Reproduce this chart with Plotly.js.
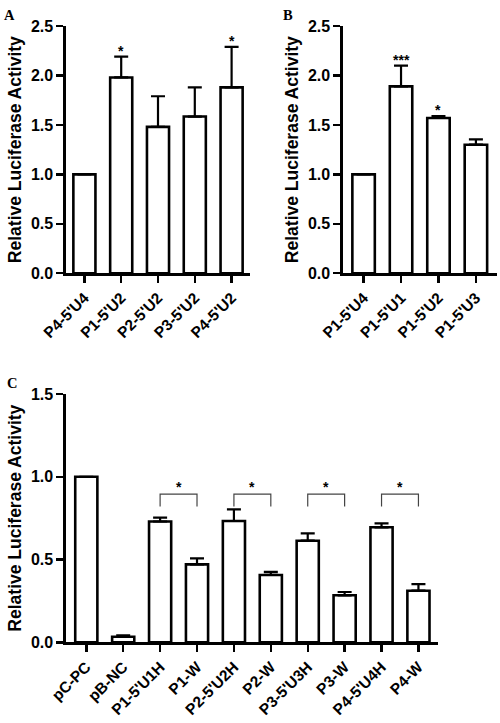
<!DOCTYPE html>
<html><head><meta charset="utf-8">
<script src="https://cdn.plot.ly/plotly-3.0.1.min.js"></script>
<style>html,body{margin:0;padding:0;background:#fff;}#chart{width:500px;height:723px;}</style>
</head><body><div id="chart"></div>
<script>
// Panel A
const catsA = ["P4-5'U4", "P1-5'U2", "P2-5'U2", "P3-5'U2", "P4-5'U2"];
const valsA = [1.0, 1.98, 1.48, 1.585, 1.88];
const errA  = [0, 0.21, 0.31, 0.295, 0.41];
const sigA  = ["", "*", "", "", "*"];
// Panel B
const catsB = ["P1-5'U4", "P1-5'U1", "P1-5'U2", "P1-5'U3"];
const valsB = [1.0, 1.89, 1.57, 1.30];
const errB  = [0, 0.21, 0.02, 0.055];
const sigB  = ["", "***", "*", ""];
// Panel C
const catsC = ["pC-PC", "pB-NC", "P1-5'U1H", "P1-W", "P2-5'U2H", "P2-W", "P3-5'U3H", "P3-W", "P4-5'U4H", "P4-W"];
const valsC = [1.0, 0.034, 0.73, 0.471, 0.733, 0.407, 0.614, 0.284, 0.695, 0.312];
const errC  = [0, 0.008, 0.023, 0.036, 0.07, 0.018, 0.044, 0.02, 0.024, 0.04];
const pairsC = [[2, 3], [4, 5], [6, 7], [8, 9]];
const pairSig = ["*", "*", "*", "*"];
const bracketTop = 0.895;
const bracketBottom = 0.82;

const FONT = "Arial, 'Liberation Sans', sans-serif";

function barTrace(cats, vals, errs, xa, ya) {
  return {
    type: 'bar', x: cats.map((c, i) => i), y: vals, xaxis: xa, yaxis: ya,
    width: 0.6,
    marker: {color: '#ffffff', line: {color: '#000000', width: 2.6}},
    error_y: {type: 'data', symmetric: false, array: errs, arrayminus: errs.map(() => 0),
      color: '#000000', thickness: 2.2, width: 7},
    showlegend: false, hoverinfo: 'skip'
  };
}

const data = [
  barTrace(catsA, valsA, errA, 'x', 'y'),
  barTrace(catsB, valsB, errB, 'x2', 'y2'),
  barTrace(catsC, valsC, errC, 'x3', 'y3')
];

function xaxis(cats, domain, range, anchor) {
  return {
    domain: domain, range: range, anchor: anchor,
    tickmode: 'array', tickvals: cats.map((c, i) => i), ticktext: cats,
    tickangle: -45, ticks: 'outside', ticklen: 7, tickwidth: 2.4, tickcolor: '#000',
    showline: true, linewidth: 2.6, linecolor: '#000',
    showgrid: false, zeroline: false,
    tickfont: {family: FONT, size: 15.5, color: '#000', weight: 'bold'}
  };
}
function yaxis(domain, range, dtick, anchor) {
  return {
    domain: domain, range: range, anchor: anchor, dtick: dtick, tick0: 0,
    tickformat: '.1f', ticks: 'outside', ticklen: 7, tickwidth: 2.4, tickcolor: '#000',
    showline: true, linewidth: 2.6, linecolor: '#000',
    showgrid: false, zeroline: false,
    tickfont: {family: FONT, size: 16, color: '#000', weight: 'bold'},
    title: {text: 'Relative Luciferase Activity', standoff: 5,
      font: {family: FONT, size: 17.5, color: '#000', weight: 'bold'}}
  };
}

const annotations = [];
function starAnn(sigs, vals, errs, xref, yref) {
  sigs.forEach((s, i) => {
    if (!s) return;
    annotations.push({x: i, y: vals[i] + errs[i], xref: xref, yref: yref, text: s,
      showarrow: false, yanchor: 'bottom', yshift: -4,
      font: {family: FONT, size: 14, color: '#000', weight: 'bold'}});
  });
}
starAnn(sigA, valsA, errA, 'x', 'y');
starAnn(sigB, valsB, errB, 'x2', 'y2');

const shapes = [];
pairsC.forEach((p, k) => {
  shapes.push({type: 'path', xref: 'x3', yref: 'y3',
    path: 'M ' + p[0] + ' ' + bracketBottom + ' L ' + p[0] + ' ' + bracketTop +
          ' L ' + p[1] + ' ' + bracketTop + ' L ' + p[1] + ' ' + bracketBottom,
    line: {color: '#444', width: 1.2}});
  annotations.push({x: (p[0] + p[1]) / 2, y: bracketTop, xref: 'x3', yref: 'y3',
    text: pairSig[k], showarrow: false, yanchor: 'bottom', yshift: -3,
    font: {family: FONT, size: 14, color: '#000', weight: 'bold'}});
});

// panel letters
[['A', 0.004, 0.993], ['B', 0.562, 0.993], ['C', 0.01, 0.484]].forEach(l => {
  annotations.push({x: l[1], y: l[2], xref: 'paper', yref: 'paper', text: l[0],
    showarrow: false, xanchor: 'left', yanchor: 'top',
    font: {family: "'Times New Roman', 'Liberation Serif', serif", size: 14.5, color: '#000', weight: 'bold'}});
});

const layout = {
  width: 500, height: 723,
  margin: {l: 0, r: 0, t: 0, b: 0},
  paper_bgcolor: '#fff', plot_bgcolor: '#fff',
  xaxis: xaxis(catsA, [0.132, 0.5], [-0.5, 4.5], 'y'),
  yaxis: yaxis([0.622, 0.964], [0, 2.5], 0.5, 'x'),
  xaxis2: xaxis(catsB, [0.686, 0.993], [-0.55, 3.55], 'y2'),
  yaxis2: yaxis([0.622, 0.964], [0, 2.5], 0.5, 'x2'),
  xaxis3: xaxis(catsC, [0.132, 0.876], [-0.55, 9.53], 'y3'),
  yaxis3: yaxis([0.1116, 0.455], [0, 1.5], 0.5, 'x3'),
  annotations: annotations, shapes: shapes,
  bargap: 0.36
};

Plotly.newPlot('chart', data, layout, {staticPlot: true, displayModeBar: false});
</script></body></html>
